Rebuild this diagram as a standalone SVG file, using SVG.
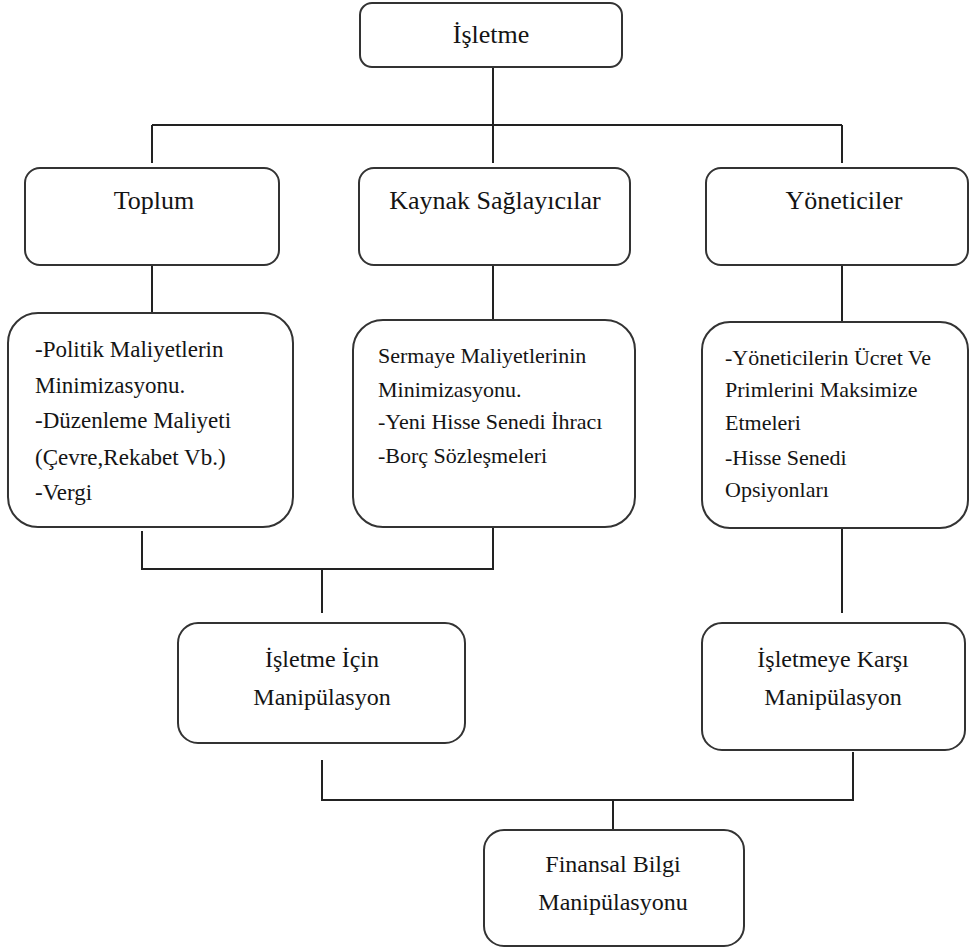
<svg xmlns="http://www.w3.org/2000/svg" width="971" height="949" viewBox="0 0 971 949">
<style>
.box{fill:#fff;stroke:#333;stroke-width:2}
.ln{fill:none;stroke:#222;stroke-width:2}
.c{text-anchor:middle}
.t1{font-size:26px}
.t2{font-size:23px}
.t3{font-size:22px}
.t4{font-size:24px}
</style>
<rect width="971" height="949" fill="#fff"/>
<g id="connectors">
<path class="ln" d="M493 67V125M152 125H842M152 125V163M493 125V163M842 125V163"/>
<path class="ln" d="M152 265V313M493 265V320M842 265V322"/>
<path class="ln" d="M142 531V569H493V527M322 569V613"/>
<path class="ln" d="M842 528V613"/>
<path class="ln" d="M322 760V800H853V752M613 800V830"/>
</g>
<g font-family="Liberation Serif, Times New Roman, serif" fill="#141414">
<g id="isletme">
<rect class="box" x="360" y="3" width="262" height="64" rx="12"/>
<text class="c t1" x="491" y="43">İşletme</text>
</g>
<g id="toplum">
<rect class="box" x="25" y="168" width="254" height="97" rx="15"/>
<text class="c t1" x="154" y="209">Toplum</text>
</g>
<g id="kaynak">
<rect class="box" x="359" y="168" width="271" height="97" rx="15"/>
<text class="c t1" x="495" y="209">Kaynak Sağlayıcılar</text>
</g>
<g id="yoneticiler">
<rect class="box" x="706" y="168" width="262" height="97" rx="15"/>
<text class="c t1" x="844" y="209">Yöneticiler</text>
</g>
<g id="toplum-detay">
<rect class="box" x="8" y="313" width="285" height="214" rx="30"/>
<text class="t2" x="35" y="357">-Politik Maliyetlerin</text>
<text class="t2" x="35" y="393">Minimizasyonu.</text>
<text class="t2" x="35" y="428">-Düzenleme Maliyeti</text>
<text class="t2" x="35" y="465">(Çevre,Rekabet Vb.)</text>
<text class="t2" x="35" y="500">-Vergi</text>
</g>
<g id="kaynak-detay">
<rect class="box" x="353" y="320" width="282" height="207" rx="30"/>
<text class="t3" x="378" y="363">Sermaye Maliyetlerinin</text>
<text class="t3" x="378" y="397">Minimizasyonu.</text>
<text class="t3" x="378" y="429">-Yeni Hisse Senedi İhracı</text>
<text class="t3" x="378" y="463">-Borç Sözleşmeleri</text>
</g>
<g id="yonetici-detay">
<rect class="box" x="702" y="322" width="266" height="206" rx="28"/>
<text class="t3" x="725" y="365">-Yöneticilerin Ücret Ve</text>
<text class="t3" x="725" y="397">Primlerini Maksimize</text>
<text class="t3" x="725" y="430">Etmeleri</text>
<text class="t3" x="725" y="465">-Hisse Senedi</text>
<text class="t3" x="725" y="497">Opsiyonları</text>
</g>
<g id="isletme-icin">
<rect class="box" x="178" y="623" width="287" height="120" rx="20"/>
<text class="c t4" x="322" y="667">İşletme İçin</text>
<text class="c t4" x="322" y="705">Manipülasyon</text>
</g>
<g id="isletmeye-karsi">
<rect class="box" x="702" y="623" width="263" height="127" rx="20"/>
<text class="c t4" x="833" y="667">İşletmeye Karşı</text>
<text class="c t4" x="833" y="705">Manipülasyon</text>
</g>
<g id="finansal">
<rect class="box" x="484" y="830" width="260" height="116" rx="20"/>
<text class="c t4" x="613" y="872">Finansal Bilgi</text>
<text class="c t4" x="613" y="910">Manipülasyonu</text>
</g>
</g>
</svg>
